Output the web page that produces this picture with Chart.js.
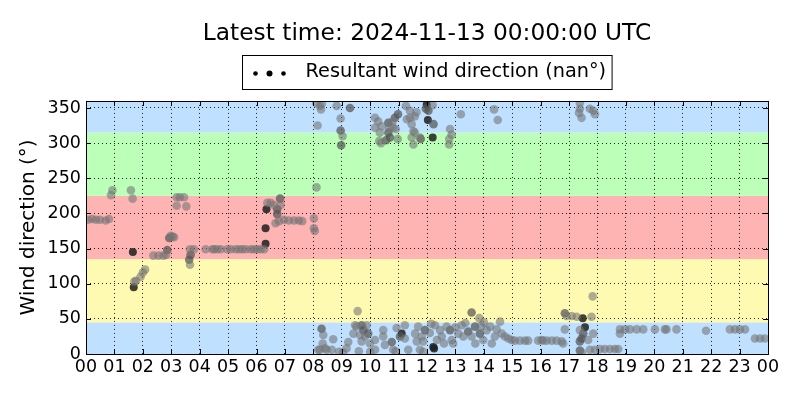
<!DOCTYPE html>
<html lang="en">
<head>
    <meta charset="UTF-8">
    <title>Wind direction</title>
    <script src="https://cdn.jsdelivr.net/npm/chart.js"></script>
    <style>
        body { margin: 0; background: #fff; }
        canvas { display: block; }
    </style>
</head>
<body>
    <canvas id="chart" width="800" height="400"></canvas>

    <script>
        // [hour of day, direction in degrees]
        const lightPoints = [
            [0.07,191],[0.21,192],[0.35,191],[0.49,191],[0.69,190],[0.81,192],
            [0.93,233],[0.88,226],[1.58,233],[1.64,221],
            [1.70,103],[1.76,104],[1.92,110],[2.0,116],[2.08,120],
            [2.37,140],[2.55,140],[2.72,140],[2.82,141],
            [2.98,168],[3.05,167],[3.1,166],
            [3.19,223],[3.3,223],[3.45,223],[3.19,211],[3.53,210],
            [3.66,149],[3.66,127],
            [3.8,149],[4.21,149],[4.45,149],[4.51,149],[4.62,149],[4.74,149],[4.97,149],[5.1,149],
            [5.27,149],[5.39,149],[5.5,149],[5.62,149],[5.8,149],[5.91,149],[6.03,149],[6.15,149],[6.27,149],
            [6.38,215],[6.5,215],[6.61,212],[6.85,212],[6.67,186],[6.79,189],[6.97,191],[7.14,190],
            [7.32,190],[7.49,190],[7.61,189],[8.02,193],[8.02,179],[8.05,175],[8.11,237],
            [8.23,353],[8.27,348],[8.15,325],[8.82,353],[8.96,335],[9.03,310],[8.1,357],[8.3,356],
            [10.17,336],[10.28,331],[10.4,324],[10.17,322],[10.34,315],[10.32,303],[10.38,300],
            [10.79,331],[10.9,320],[10.97,306],[10.81,322],[10.67,322],
            [11.26,353],[11.4,346],[11.29,334],[11.4,336],[11.63,344],[11.57,338],[11.46,327],
            [11.52,317],[11.57,315],[11.46,308],[11.52,298],[11.75,308],[12.2,354],
            [12.81,320],[12.87,312],[12.78,306],[12.78,298],[13.19,341],[14.36,348],[14.49,333],
            [17.38,349],[17.35,343],[17.44,336],[17.73,349],[17.85,346],[17.91,341],[17.38,357],
            [8.35,27],[8.33,15],[8.23,6],[8.47,6],[8.70,21],[8.65,6],[8.17,6],[8.41,8],
            [9.17,8],[9.23,17],[9.41,29],[9.52,39],[9.64,27],[9.47,41],[9.88,41],[9.82,25],
            [9.70,18],[9.99,15],[10.17,20],[10.17,6],[10.46,25],[10.52,13],[10.46,34],[10.81,6],
            [10.93,37],[11.22,41],[11.22,22],[11.34,6],[11.58,29],[11.64,18],[11.69,39],[11.75,6],
            [11.81,25],[9.56,61],[8.9,3],[9.05,2],[9.6,4],[10.0,3],[10.9,4],
            [11.87,18],[12.28,41],[12.46,34],[12.52,25],[12.69,39],[12.87,20],[12.92,15],[13.10,29],
            [13.22,41],[13.28,25],[13.57,25],[13.84,51],[13.98,20],[14.10,34],[14.22,39],[14.28,15],
            [14.39,25],[14.57,46],[14.63,29],[14.74,25],[14.86,22],[14.98,20],[15.09,19],[15.27,19],
            [15.45,19],[15.56,19],[15.91,19],[16.09,19],[16.03,20],
            [12.1,30],[12.35,20],[12.6,15],[13.0,38],[13.35,44],[13.7,15],[14.0,45],[14.45,35],
            [12.15,43],[13.9,40],[11.87,3],
            [16.21,19],[16.39,19],[16.56,19],[16.74,18],[16.79,15],[16.85,35],[16.91,54],[17.09,54],
            [17.27,53],[17.79,53],[17.83,82],[17.38,34],[17.67,20],[17.85,29],[17.73,6],[17.91,6],
            [18.09,7],[18.26,7],[18.44,7],[18.61,7],[18.73,7],[18.79,29],[18.79,35],[18.97,35],
            [19.14,35],[19.38,35],[19.61,35],[20.02,35],[20.37,35],[20.43,35],[20.78,35],[21.82,33],
            [22.66,35],[22.84,35],[23.01,35],[23.19,35],[23.54,22],[23.72,22],[23.89,22],[17.45,2]
        ];
        const midPoints = [
            [2.86,148],[2.93,165],[3.68,141],[3.63,134],
            [6.73,206],[6.73,199],[6.83,221],
            [9.29,350],[8.96,318],[8.98,297],
            [10.64,329],[10.64,315],[10.7,308],[10.87,336],[10.98,341],[10.56,304],
            [11.78,306],[12.05,346],[12.23,327],[11.96,349],
            [8.29,36],[9.70,41],[9.76,34],[9.93,29],[10.76,17],[11.05,25],
            [11.93,34],[12.81,34],[13.45,32],[13.57,59],[13.69,39],[13.86,29],
            [17.50,29],[17.44,22],[17.38,18],[17.38,5],[16.85,58]
        ];
        const darkPoints = [
            [1.65,145],[1.68,95],[6.32,179],[6.32,157],[6.35,206],
            [11.99,355],[12.03,333],[12.2,308],[11.11,29],[12.22,10],[12.25,8],
            [17.48,51],[17.56,38]
        ];

        const hourLabels = ['00','01','02','03','04','05','06','07','08','09','10','11',
            '12','13','14','15','16','17','18','19','20','21','22','23','00'];
        const yTickStep = 50;

        // direction sectors behind the plot
        const sectorEdges = [0, 45, 135, 225, 315, 360];
        const sectorColors = ['rgb(191,224,255)', 'rgb(255,250,178)', 'rgb(255,180,180)',
            'rgb(187,255,185)', 'rgb(191,224,255)'];

        const titleText = 'Latest time: 2024-11-13 00:00:00 UTC';
        const legendText = 'Resultant wind direction (nan°)';
        const yTitle = 'Wind direction (°)';

        const FONT = "'DejaVu Sans', sans-serif";

        function toXY(list) {
            return list.map(p => ({ x: p[0], y: p[1] }));
        }

        const sectorPlugin = {
            id: 'sectors',
            beforeDraw(chart) {
                const { ctx, chartArea } = chart;
                const y = chart.scales.y;
                ctx.save();
                for (let i = 0; i < sectorColors.length; i++) {
                    const top = y.getPixelForValue(sectorEdges[i + 1]);
                    const bottom = y.getPixelForValue(sectorEdges[i]);
                    ctx.fillStyle = sectorColors[i];
                    ctx.fillRect(chartArea.left, top, chartArea.right - chartArea.left, bottom - top);
                }
                ctx.restore();
            }
        };

        const framePlugin = {
            id: 'frame',
            afterDraw(chart) {
                const { ctx, chartArea } = chart;
                const { left, right, top, bottom } = chartArea;
                ctx.save();
                ctx.strokeStyle = '#000';
                ctx.lineWidth = 1;
                ctx.setLineDash([]);
                ctx.beginPath();
                // inward tick marks, matplotlib classic style
                chart.scales.x.ticks.forEach(t => {
                    const px = Math.round(chart.scales.x.getPixelForValue(t.value)) + 0.5;
                    ctx.moveTo(px, bottom); ctx.lineTo(px, bottom - 5);
                    ctx.moveTo(px, top); ctx.lineTo(px, top + 5);
                });
                chart.scales.y.ticks.forEach(t => {
                    const py = Math.round(chart.scales.y.getPixelForValue(t.value)) + 0.5;
                    ctx.moveTo(left, py); ctx.lineTo(left + 5, py);
                    ctx.moveTo(right, py); ctx.lineTo(right - 5, py);
                });
                ctx.stroke();
                ctx.strokeRect(Math.round(left) + 0.5, Math.round(top) + 0.5,
                    Math.round(right - left), Math.round(bottom - top));

                // legend box
                ctx.font = '19.3px ' + FONT;
                const tw = ctx.measureText(legendText).width;
                const boxW = tw + 69;
                const cx = (left + right) / 2;
                const bx = Math.round(cx - boxW / 2) + 0.5;
                const by = 55.5;
                ctx.fillStyle = '#fff';
                ctx.fillRect(bx, by, boxW, 34);
                ctx.strokeRect(bx, by, boxW, 34);
                ctx.fillStyle = '#000';
                [[13, 2.3], [27, 3], [41, 2.3]].forEach(d => {
                    ctx.beginPath();
                    ctx.arc(bx + d[0], 73.5, d[1], 0, Math.PI * 2);
                    ctx.fill();
                });
                ctx.textBaseline = 'middle';
                ctx.fillText(legendText, bx + 63, 72);
                ctx.restore();
            }
        };

        window.onload = function() {
            const ctx = document.getElementById('chart').getContext('2d');
            const tickFont = { family: FONT, size: 17.5 };
            new Chart(ctx, {
                type: 'scatter',
                data: {
                    datasets: [
                        {
                            label: legendText,
                            data: toXY(lightPoints),
                            backgroundColor: 'rgba(115,115,115,0.58)',
                            borderWidth: 0,
                            pointRadius: 4.3
                        },
                        {
                            label: 'mid',
                            data: toXY(midPoints),
                            backgroundColor: 'rgba(85,85,85,0.72)',
                            borderWidth: 0,
                            pointRadius: 4.3
                        },
                        {
                            label: 'dark',
                            data: toXY(darkPoints),
                            backgroundColor: 'rgba(30,30,30,0.85)',
                            borderWidth: 0,
                            pointRadius: 4
                        }
                    ]
                },
                options: {
                    responsive: false,
                    animation: false,
                    layout: { padding: { left: 0, right: 32, top: 0, bottom: 0 } },
                    plugins: {
                        legend: { display: false },
                        tooltip: { enabled: false },
                        title: {
                            display: true,
                            text: titleText,
                            fullSize: false,
                            color: '#000',
                            font: { family: FONT, size: 23.3, weight: 'normal' },
                            padding: { top: 20, bottom: 53 }
                        }
                    },
                    scales: {
                        x: {
                            type: 'linear',
                            min: 0,
                            max: 24,
                            ticks: {
                                stepSize: 1,
                                autoSkip: false,
                                maxRotation: 0,
                                color: '#000',
                                font: tickFont,
                                padding: 3,
                                callback: v => hourLabels[v]
                            },
                            grid: { color: 'rgba(0,0,0,0.85)', lineWidth: 1, drawTicks: false },
                            border: { display: false, dash: [1, 3] },
                            afterFit: s => { s.height = 46; }
                        },
                        y: {
                            min: 0,
                            max: 360,
                            ticks: {
                                stepSize: yTickStep,
                                includeBounds: false,
                                color: '#000',
                                font: tickFont,
                                padding: 5
                            },
                            grid: { color: 'rgba(0,0,0,0.85)', lineWidth: 1, drawTicks: false },
                            border: { display: false, dash: [1, 3] },
                            title: {
                                display: true,
                                text: yTitle,
                                color: '#000',
                                font: { family: FONT, size: 20 },
                                padding: { top: 17, bottom: 0 }
                            },
                            afterFit: s => { s.width = 86; }
                        }
                    }
                },
                plugins: [sectorPlugin, framePlugin]
            });
        };
    </script>
</body>
</html>
